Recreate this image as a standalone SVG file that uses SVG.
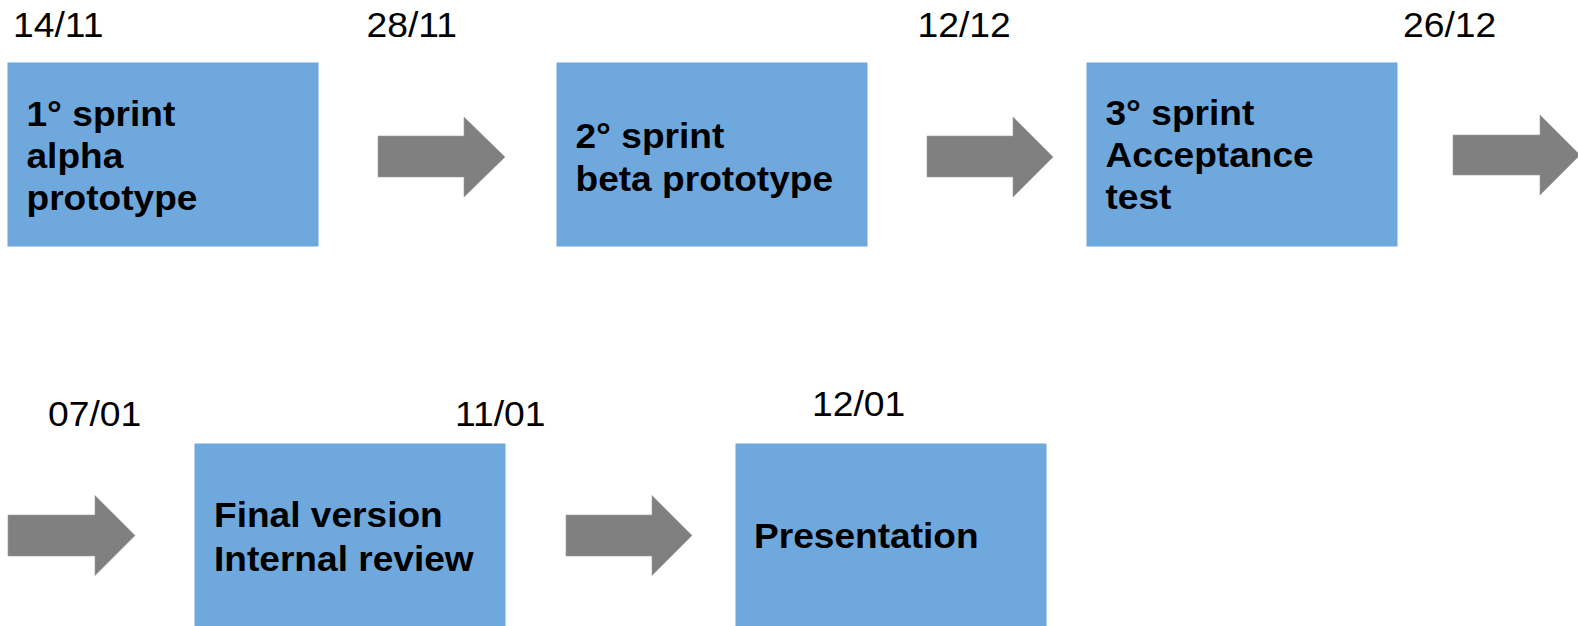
<svg xmlns="http://www.w3.org/2000/svg" width="1578" height="626" viewBox="0 0 1578 626">
<style>
.box { fill: #6fa8dc; stroke: #6fa8dc; stroke-width: 1; }
.arrow { fill: #808080; stroke: #9a9a9a; stroke-width: 0.6; }
.lbl { font-family: "Liberation Sans", Arial, Helvetica, sans-serif; font-size: 35px; font-weight: bold; fill: #000; }
.date { font-family: "Liberation Sans", Arial, Helvetica, sans-serif; font-size: 35.5px; fill: #000; }
</style>
<rect width="1578" height="626" fill="#ffffff"/>
<g id="dates">
  <text class="date" transform="translate(13 37) scale(1.05 1)">14/11</text>
  <text class="date" transform="translate(366.5 37) scale(1.05 1)">28/11</text>
  <text class="date" transform="translate(917.5 37) scale(1.05 1)">12/12</text>
  <text class="date" transform="translate(1403 37) scale(1.05 1)">26/12</text>
  <text class="date" transform="translate(48 426) scale(1.05 1)">07/01</text>
  <text class="date" transform="translate(455 426) scale(1.05 1)">11/01</text>
  <text class="date" transform="translate(812 416) scale(1.05 1)">12/01</text>
</g>
<g id="connectors">
  <polygon class="arrow" points="378,136 464,136 464,117 505,157 464,197 464,177 378,177"/>
  <polygon class="arrow" points="927,136 1013,136 1013,117 1053,157 1013,197 1013,177 927,177"/>
  <polygon class="arrow" points="1453,135 1540,135 1540,115 1580,155 1540,195 1540,175 1453,175"/>
  <polygon class="arrow" points="8,515 95,515 95,495.5 135,535.5 95,575.5 95,556 8,556"/>
  <polygon class="arrow" points="566,515 652,515 652,495.5 692,535.5 652,575.5 652,556 566,556"/>
</g>
<g id="node1">
  <rect class="box" x="8" y="63" width="310" height="183"/>
  <text class="lbl" transform="translate(26.5 126) scale(1.06 1)"><tspan x="0" y="0">1° sprint</tspan><tspan x="0" y="42">alpha</tspan><tspan x="0" y="84">prototype</tspan></text>
</g>
<g id="node2">
  <rect class="box" x="557" y="63" width="310" height="183"/>
  <text class="lbl" transform="translate(575.5 148) scale(1.06 1)"><tspan x="0" y="0">2° sprint</tspan><tspan x="0" y="43">beta prototype</tspan></text>
</g>
<g id="node3">
  <rect class="box" x="1087" y="63" width="310" height="183"/>
  <text class="lbl" transform="translate(1105.5 125) scale(1.06 1)"><tspan x="0" y="0">3° sprint</tspan><tspan x="0" y="42">Acceptance</tspan><tspan x="0" y="84">test</tspan></text>
</g>
<g id="node4">
  <rect class="box" x="195" y="444" width="310" height="183"/>
  <text class="lbl" transform="translate(214 527) scale(1.06 1)"><tspan x="0" y="0">Final version</tspan><tspan x="0" y="44">Internal review</tspan></text>
</g>
<g id="node5">
  <rect class="box" x="736" y="444" width="310" height="183"/>
  <text class="lbl" transform="translate(754 548) scale(1.06 1)">Presentation</text>
</g>
</svg>
